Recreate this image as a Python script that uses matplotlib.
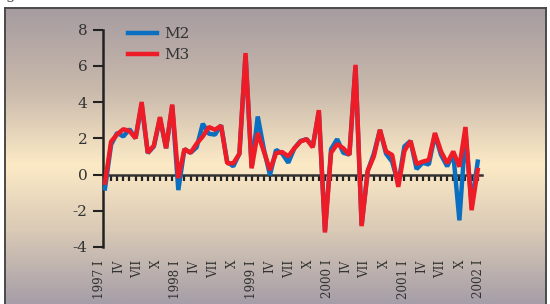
import numpy as np
import matplotlib
matplotlib.use("Agg")
import matplotlib.pyplot as plt
from matplotlib.colors import LinearSegmentedColormap

# ---- data (monthly, 1997 I .. 2002 II) ----
months = list(range(62))
m2 = [-0.77, 1.65, 2.30, 2.10, 2.50, 2.00, 3.85, 1.18, 1.55, 3.10,
      1.45, 3.80, -0.86, 1.40, 1.20, 1.50, 2.80, 2.25, 2.20, 2.72,
      0.70, 0.45, 1.15, 6.55, 0.40, 3.20, 1.40, -0.03, 1.36, 1.15,
      0.65, 1.45, 1.85, 1.95, 1.55, 3.45, -3.10, 1.40, 1.95, 1.20,
      1.10, 5.95, -2.80, 0.20, 1.15, 2.45, 1.15, 0.70, -0.50, 1.55,
      1.85, 0.30, 0.65, 0.55, 2.20, 1.08, 0.45, 1.15, -2.53, 2.30,
      -1.65, 0.71]
m3 = [-0.45, 1.82, 2.22, 2.50, 2.40, 2.00, 4.00, 1.20, 1.60, 3.17,
      1.45, 3.86, -0.20, 1.40, 1.20, 1.70, 2.10, 2.62, 2.47, 2.69,
      0.62, 0.62, 1.15, 6.70, 0.34, 2.29, 1.27, 0.25, 1.18, 1.24,
      1.00, 1.45, 1.82, 1.95, 1.50, 3.55, -3.20, 1.20, 1.68, 1.45,
      1.08, 6.05, -2.85, 0.20, 1.00, 2.47, 1.27, 1.08, -0.68, 1.30,
      1.85, 0.58, 0.71, 0.80, 2.29, 1.27, 0.62, 1.27, 0.43, 2.62,
      -1.97, 0.25]
tick_labels = ["1997 I", "IV", "VII", "X",
               "1998 I", "IV", "VII", "X",
               "1999 I", "IV", "VII", "X",
               "2000 I", "IV", "VII", "X",
               "2001 I", "IV", "VII", "X",
               "2002 I"]
yticks = [-4, -2, 0, 2, 4, 6, 8]
series_names = ["M2", "M3"]

W, H = 550, 304
SERIF = "DejaVu Serif"
fig = plt.figure(figsize=(W / 100, H / 100), dpi=100)
fig.patch.set_facecolor("white")

# cut-off title glyph at the very top (as in the reference)
fig.text(5 / W, 1 + 1.5 / H, "g", family=SERIF, fontsize=11, color="#444444",
         va="baseline", ha="left")

# ---- background gradient panel with border ----
bg = fig.add_axes([5 / W, 0, 541 / W, 296 / H])
stops = [(0.00, (166, 156, 160)),
         (0.28, (202, 186, 172)),
         (0.53, (252, 234, 198)),
         (0.75, (218, 202, 182)),
         (1.00, (166, 158, 168))]
cmap = LinearSegmentedColormap.from_list(
    "bg", [(p, tuple(v / 255 for v in c)) for p, c in stops])
grad = np.linspace(0, 1, 400).reshape(-1, 1)
bg.imshow(grad, aspect="auto", cmap=cmap, extent=[0, 1, 0, 1], origin="upper")
bg.set_xticks([])
bg.set_yticks([])
for s in ["left", "top", "right"]:
    bg.spines[s].set_color("#4a4a4a")
    bg.spines[s].set_linewidth(1.4)
bg.spines["bottom"].set_visible(False)

# ---- main axes ----
x_left_px, x_right_px = 102.7, 481.7
px_per_month = 6.11
x0_px = 105.0
ax = fig.add_axes([x_left_px / W, 1 - 247 / H,
                   (x_right_px - x_left_px) / W, (247 - 29.5) / H])
ax.set_facecolor("none")
ax.set_xlim((x_left_px - x0_px) / px_per_month, (x_right_px - x0_px) / px_per_month)
ax.set_ylim(-4, 8)

ax.plot(months, m2, color="#0a6fc0", lw=3.2, solid_joinstyle="bevel",
        label=series_names[0], zorder=3)
ax.plot(months, m3, color="#ee1c27", lw=3.2, solid_joinstyle="bevel",
        label=series_names[1], zorder=4)

ax.spines["top"].set_visible(False)
ax.spines["right"].set_visible(False)
ax.spines["left"].set_color("#222222")
ax.spines["left"].set_linewidth(1.8)
ax.spines["bottom"].set_position(("data", 0))
ax.spines["bottom"].set_color("#333333")
ax.spines["bottom"].set_linewidth(1.8)

ax.set_xticks(months)
ax.tick_params(axis="x", direction="out", length=4.5, width=1.6,
               color="#222222", labelbottom=False)
ax.set_yticks(yticks)
ax.set_yticklabels([str(v) for v in yticks], family=SERIF, fontsize=11,
                   color="#333333")
ax.tick_params(axis="y", direction="out", length=7, width=1.5,
               color="#222222", pad=4)

# month labels below the panel
label_pos = [-0.9 + 3.105 * k for k in range(len(tick_labels))]
for p, t in zip(label_pos, tick_labels):
    ax.text(p, -13 / 217.5, t, transform=ax.get_xaxis_transform(),
            rotation=90, ha="center", va="top", family=SERIF, fontsize=8.6,
            color="#333333")

leg = ax.legend(loc="upper left", bbox_to_anchor=(128 / W, 1 - 27 / H),
                bbox_transform=fig.transFigure, frameon=False,
                prop={"family": SERIF, "size": 11}, handlelength=1.9,
                handletextpad=0.45, borderpad=0, borderaxespad=0,
                labelspacing=0.45)
for t in leg.get_texts():
    t.set_color("#333333")

fig.savefig("out.png", dpi=100)
